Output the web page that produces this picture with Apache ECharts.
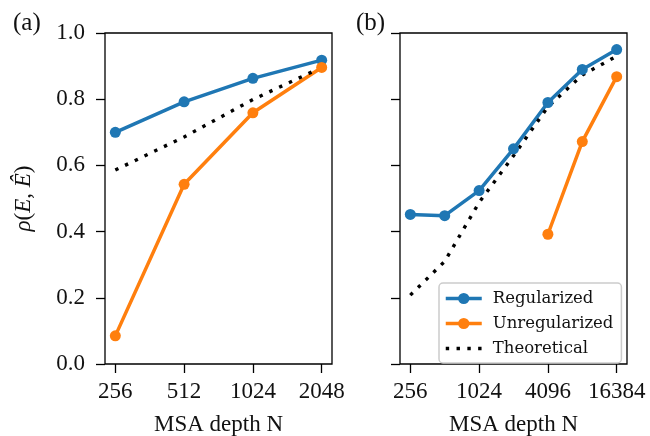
<!DOCTYPE html>
<html>
<head>
<meta charset="utf-8">
<script src="https://cdn.jsdelivr.net/npm/echarts@6/dist/echarts.min.js"></script>
<style>html,body{margin:0;padding:0;background:#fff}#c{width:650px;height:436px}</style>
</head>
<body>
<div id="c"></div>
<script>
// ---- data ----
const leftN = [256, 512, 1024, 2048];
const leftReg = [0.700, 0.792, 0.863, 0.918];
const leftUnreg = [0.085, 0.543, 0.759, 0.896];
const leftTheo = [0.586, 0.686, 0.799, 0.896];

const rightN = [256, 512, 1024, 2048, 4096, 8192, 16384];
const rightReg = [0.452, 0.448, 0.524, 0.650, 0.790, 0.890, 0.950];
const rightUnregN = [4096, 8192, 16384];
const rightUnreg = [0.392, 0.672, 0.868];
const rightTheo = [0.208, 0.310, 0.488, 0.629, 0.777, 0.873, 0.930];

const leftTicks = [256, 512, 1024, 2048];
const rightTicks = [256, 1024, 4096, 16384];
const yTicks = ['0.0', '0.2', '0.4', '0.6', '0.8', '1.0'];

const BLUE = '#1f77b4', ORANGE = '#ff7f0e';
const FONT = 'Liberation Serif';

const pairs = (xs, ys) => xs.map((n, i) => [Math.log2(n), ys[i]]);

function xAxis(idx, ticks, min, max) {
  const tv = ticks.map(Math.log2);
  return {
    type: 'value', gridIndex: idx, min: min, max: max,
    axisLine: { show: false },
    splitLine: { show: false },
    axisTick: { show: true, customValues: tv, length: 9, lineStyle: { color: '#000', width: 1.3 } },
    axisLabel: { show: true, customValues: tv, margin: 16,
      formatter: v => String(Math.round(Math.pow(2, v))),
      fontFamily: FONT, fontSize: 23, color: '#111' },
    name: 'MSA depth N', nameLocation: 'middle', nameGap: 49,
    nameTextStyle: { fontFamily: FONT, fontSize: 23, color: '#111' }
  };
}

function yAxis(idx, showLabel) {
  const o = {
    type: 'value', gridIndex: idx, min: 0, max: 1, interval: 0.2,
    axisLine: { show: false },
    splitLine: { show: false },
    axisTick: { show: true, length: 9, lineStyle: { color: '#000', width: 1.3 } },
    axisLabel: { show: showLabel, margin: 20,
      formatter: v => yTicks[Math.round(v * 5)],
      fontFamily: FONT, fontSize: 23, color: '#111' }
  };
  if (showLabel) {
    o.name = '{i|ρ}({i|E}, {i|Ê})';
    o.nameLocation = 'middle';
    o.nameGap = 70;
    o.nameRotate = 90;
    o.nameTextStyle = { fontFamily: FONT, fontSize: 23, color: '#111',
      rich: { i: { fontFamily: FONT, fontSize: 23, fontStyle: 'italic', color: '#111' } } };
  }
  return o;
}

function lineSeries(name, color, idx, data) {
  return {
    name: name, type: 'line', xAxisIndex: idx, yAxisIndex: idx, data: data,
    symbol: 'circle', symbolSize: 11, showSymbol: true,
    lineStyle: { color: color, width: 3.5 },
    itemStyle: { color: color },
    animation: false
  };
}
function theoSeries(idx, data) {
  return {
    name: 'Theoretical', type: 'line', xAxisIndex: idx, yAxisIndex: idx, data: data,
    symbol: 'none', showSymbol: false,
    lineStyle: { color: '#000', width: 3.4, type: [3.4, 7.4], cap: 'butt' },
    itemStyle: { color: '#000' },
    animation: false
  };
}

const gridBase = { top: 33, bottom: 72, show: true, borderColor: '#000', borderWidth: 1.3,
  backgroundColor: 'transparent', containLabel: false, outerBoundsMode: 'none' };

const chart = echarts.init(document.getElementById('c'), null, { renderer: 'canvas' });
chart.setOption({
  animation: false,
  backgroundColor: '#fff',
  grid: [
    Object.assign({ left: 105, right: 318 }, gridBase),
    Object.assign({ left: 400, right: 23 }, gridBase)
  ],
  xAxis: [xAxis(0, leftTicks, 7.85, 11.15), xAxis(1, rightTicks, 7.7, 14.3)],
  yAxis: [yAxis(0, true), yAxis(1, false)],
  legend: {
    orient: 'vertical', left: 439, top: 283,
    padding: [7, 8, 6, 5], itemGap: 8, itemWidth: 36, itemHeight: 14,
    borderColor: '#cccccc', borderWidth: 1.5, borderRadius: 4,
    backgroundColor: 'rgba(255,255,255,0.8)',
    lineStyle: { width: 3.5 },
    data: ['Regularized', 'Unregularized', { name: 'Theoretical', itemStyle: { opacity: 0 } }],
    textStyle: { fontFamily: 'DejaVu Serif', fontSize: 16.5, color: '#111', padding: [0, 0, 0, 6] }
  },
  graphic: [
    { type: 'text', left: 13, top: 11, style: { text: '(a)', fontFamily: FONT, fontSize: 25, fill: '#111' } },
    { type: 'text', left: 356, top: 11, style: { text: '(b)', fontFamily: FONT, fontSize: 25, fill: '#111' } }
  ],
  series: [
    lineSeries('Regularized', BLUE, 0, pairs(leftN, leftReg)),
    lineSeries('Unregularized', ORANGE, 0, pairs(leftN, leftUnreg)),
    theoSeries(0, pairs(leftN, leftTheo)),
    lineSeries('Regularized', BLUE, 1, pairs(rightN, rightReg)),
    lineSeries('Unregularized', ORANGE, 1, pairs(rightUnregN, rightUnreg)),
    theoSeries(1, pairs(rightN, rightTheo))
  ]
});
</script>
</body>
</html>
